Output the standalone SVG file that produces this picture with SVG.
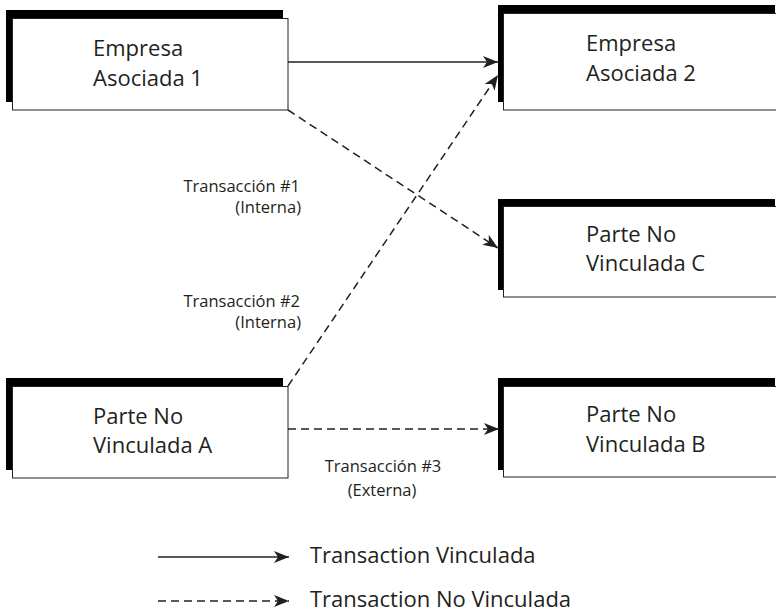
<svg xmlns="http://www.w3.org/2000/svg" width="776" height="614" viewBox="0 0 776 614">
  <style>
    .shadow { fill: #000000; }
    .panel { fill: #ffffff; stroke: #231f20; stroke-width: 1; }
    .name { font-family: "Open Sans", "Noto Sans", sans-serif; font-size: 22px; fill: #231f20; }
    .label { font-family: "Open Sans", "Noto Sans", sans-serif; font-size: 16.5px; fill: #231f20; }
    .legend { font-family: "Open Sans", "Noto Sans", sans-serif; font-size: 22px; fill: #231f20; }
    .link { fill: none; stroke: #231f20; stroke-width: 1.5; }
    .dashed { stroke-dasharray: 8 5; }
  </style>
  <defs>
    <marker id="arrow" markerUnits="userSpaceOnUse" markerWidth="18" markerHeight="16" viewBox="-17 -8 18 16" refX="0" refY="0" orient="auto">
      <path d="M0,0 L-15,-6 L-11,0 L-15,6 Z" fill="#231f20"/>
    </marker>
  </defs>

  <!-- Empresa Asociada 1 -->
  <g id="empresa-asociada-1">
    <rect class="shadow" x="6" y="10" width="277" height="92"/>
    <rect class="panel" x="12.5" y="18.5" width="275.5" height="91.5"/>
    <text class="name" x="93" y="56">Empresa</text>
    <text class="name" x="93" y="86">Asociada 1</text>
  </g>

  <!-- Empresa Asociada 2 -->
  <g id="empresa-asociada-2">
    <rect class="shadow" x="498" y="5" width="277" height="97"/>
    <rect class="panel" x="503.5" y="13.5" width="276" height="96.5"/>
    <text class="name" x="586" y="51">Empresa</text>
    <text class="name" x="586" y="81">Asociada 2</text>
  </g>

  <!-- Parte No Vinculada C -->
  <g id="parte-no-vinculada-c">
    <rect class="shadow" x="498" y="199" width="277" height="91"/>
    <rect class="panel" x="503.5" y="206.5" width="276" height="90.5"/>
    <text class="name" x="586" y="242">Parte No</text>
    <text class="name" x="586" y="271">Vinculada C</text>
  </g>

  <!-- Parte No Vinculada A -->
  <g id="parte-no-vinculada-a">
    <rect class="shadow" x="6" y="378" width="277" height="92"/>
    <rect class="panel" x="12.5" y="386.5" width="275.5" height="91.5"/>
    <text class="name" x="93" y="424">Parte No</text>
    <text class="name" x="93" y="453">Vinculada A</text>
  </g>

  <!-- Parte No Vinculada B -->
  <g id="parte-no-vinculada-b">
    <rect class="shadow" x="498" y="378" width="277" height="92"/>
    <rect class="panel" x="503.5" y="386.5" width="276" height="90.5"/>
    <text class="name" x="586" y="422">Parte No</text>
    <text class="name" x="586" y="452">Vinculada B</text>
  </g>

  <!-- Transaction connectors -->
  <g id="connectors">
    <line class="link" x1="288" y1="62" x2="498" y2="62" marker-end="url(#arrow)"/>
    <line class="link dashed" x1="288" y1="110" x2="498" y2="248" marker-end="url(#arrow)"/>
    <line class="link dashed" x1="288" y1="386" x2="498" y2="75" marker-end="url(#arrow)"/>
    <line class="link dashed" x1="288" y1="429" x2="499" y2="429" marker-end="url(#arrow)"/>
  </g>

  <!-- Transaction labels -->
  <g id="labels">
    <text class="label" x="300" y="192" text-anchor="end">Transacción #1</text>
    <text class="label" x="301" y="213" text-anchor="end">(Interna)</text>
    <text class="label" x="300" y="307" text-anchor="end">Transacción #2</text>
    <text class="label" x="301" y="328" text-anchor="end">(Interna)</text>
    <text class="label" x="383" y="472" text-anchor="middle">Transacción #3</text>
    <text class="label" x="382" y="496" text-anchor="middle">(Externa)</text>
  </g>

  <!-- Legend -->
  <g id="legend">
    <line class="link" x1="158" y1="557" x2="289" y2="557" marker-end="url(#arrow)"/>
    <line class="link dashed" x1="158" y1="601" x2="289" y2="601" marker-end="url(#arrow)"/>
    <text class="legend" x="310" y="563">Transaction Vinculada</text>
    <text class="legend" x="310" y="607">Transaction No Vinculada</text>
  </g>
</svg>
